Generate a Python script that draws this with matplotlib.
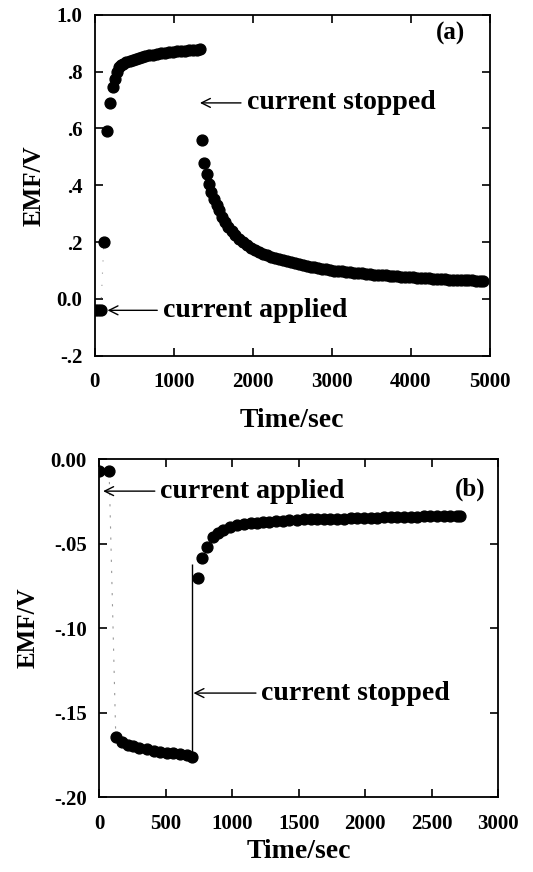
import matplotlib
matplotlib.use("Agg")
import matplotlib.pyplot as plt
from matplotlib.ticker import FixedLocator, FixedFormatter

plt.rcParams['font.family'] = ['Liberation Serif', 'DejaVu Serif']
plt.rcParams['font.weight'] = 'bold'

# panel (a): EMF after current applied, then stopped
time_a_on = [0, 40, 75, 114, 152, 190, 228, 250, 275, 300, 330, 360, 400, 440, 480,
             520, 560, 600, 640, 690, 740, 790, 840, 890, 940, 990, 1040, 1090,
             1140, 1190, 1240, 1290, 1330]
emf_a_on = [-0.04, -0.04, -0.04, 0.20, 0.59, 0.69, 0.745, 0.775, 0.80, 0.815, 0.822,
            0.828, 0.834, 0.838, 0.842, 0.845, 0.848, 0.851, 0.854, 0.857, 0.859,
            0.861, 0.864, 0.866, 0.868, 0.870, 0.871, 0.873, 0.874, 0.875, 0.876,
            0.877, 0.878]

time_a_off = [1354, 1385, 1415, 1445, 1475, 1505, 1540, 1575, 1610, 1650, 1690, 1735,
              1780, 1830, 1880, 1930, 1980, 2030, 2080, 2130, 2180, 2230, 2280, 2330,
              2380, 2430, 2480, 2530, 2580, 2630, 2680, 2730, 2780, 2830, 2880, 2930,
              2980, 3030, 3080, 3130, 3180, 3230, 3280, 3330, 3380, 3430, 3480, 3530,
              3580, 3630, 3680, 3730, 3780, 3830, 3880, 3930, 3980, 4030, 4080, 4130,
              4180, 4230, 4280, 4330, 4380, 4430, 4480, 4530, 4580, 4630, 4680, 4730,
              4780, 4830, 4880, 4910]
emf_a_off = [0.558, 0.48, 0.44, 0.405, 0.378, 0.352, 0.33, 0.313, 0.29, 0.27, 0.252,
             0.238, 0.225, 0.212, 0.200, 0.189, 0.180, 0.171, 0.164, 0.158, 0.153,
             0.148, 0.144, 0.140, 0.136, 0.132, 0.129, 0.126, 0.122, 0.119, 0.116,
             0.114, 0.111, 0.108, 0.106, 0.104, 0.102, 0.100, 0.098, 0.097, 0.095,
             0.094, 0.092, 0.091, 0.090, 0.088, 0.087, 0.086, 0.085, 0.084, 0.083,
             0.082, 0.081, 0.080, 0.079, 0.078, 0.077, 0.076, 0.075, 0.074, 0.073,
             0.072, 0.071, 0.071, 0.070, 0.069, 0.068, 0.068, 0.067, 0.066, 0.066,
             0.065, 0.065, 0.064, 0.064, 0.063]

# panel (b)
time_b_pre = [0, 75]
emf_b_pre = [-0.007, -0.007]
time_b_on = [125, 170, 215, 256, 300, 361, 410, 459, 510, 556, 610, 662, 699]
emf_b_on = [-0.1645, -0.1675, -0.169, -0.170, -0.171, -0.1716, -0.1725, -0.1734,
            -0.1738, -0.174, -0.1745, -0.175, -0.1765]
time_b_off = [744, 774, 812, 857, 895, 932, 985, 1038, 1090, 1140, 1190, 1233, 1280,
              1330, 1380, 1430, 1489, 1540, 1590, 1640, 1690, 1737, 1790, 1840, 1890,
              1940, 1990, 2040, 2090, 2140, 2190, 2240, 2290, 2340, 2390, 2440, 2490,
              2540, 2590, 2640, 2690, 2714]
emf_b_off = [-0.0704, -0.0586, -0.052, -0.046, -0.0435, -0.042, -0.0405, -0.039,
             -0.0385, -0.038, -0.0377, -0.0373, -0.037, -0.0367, -0.0364, -0.0361,
             -0.0358, -0.0357, -0.0356, -0.0355, -0.0355, -0.0354, -0.0353, -0.0352,
             -0.0351, -0.035, -0.0349, -0.0348, -0.0347, -0.0346, -0.0345, -0.0344,
             -0.0343, -0.0342, -0.0341, -0.034, -0.034, -0.0339, -0.0338, -0.0338,
             -0.0337, -0.0337]
stop_b = 699

xticks_a = [0, 1000, 2000, 3000, 4000, 5000]
yticks_a = [-0.2, 0.0, 0.2, 0.4, 0.6, 0.8, 1.0]
ylabels_a = ['-.2', '0.0', '.2', '.4', '.6', '.8', '1.0']
xticks_b = [0, 500, 1000, 1500, 2000, 2500, 3000]
yticks_b = [-0.20, -0.15, -0.10, -0.05, 0.00]
ylabels_b = ['-.20', '-.15', '-.10', '-.05', '0.00']

fig = plt.figure(figsize=(5.33, 8.72), dpi=100)
ax1 = fig.add_axes([0.178, 0.592, 0.741, 0.391])
ax2 = fig.add_axes([0.186, 0.086, 0.749, 0.3876])

mk = dict(marker='o', ms=7.8, color='black', ls='none')
tick_fs = 15
ann_fs = 20
arrow = dict(arrowstyle='->', lw=1.0, color='black', shrinkA=2, shrinkB=0,
             mutation_scale=16)


def style(ax, xt, yt, ylab, xpad):
    for s in ax.spines.values():
        s.set_linewidth(1.3)
    ax.tick_params(direction='in', length=6, width=1.2, top=True, right=True,
                   labelsize=tick_fs, pad=9)
    ax.tick_params(axis='x', pad=12)
    ax.xaxis.set_major_locator(FixedLocator(xt))
    ax.yaxis.set_major_locator(FixedLocator(yt))
    ax.yaxis.set_major_formatter(FixedFormatter(ylab))
    ax.set_xlabel('Time/sec', fontsize=20, fontweight='bold', labelpad=xpad)
    ax.set_ylabel('EMF/V', fontsize=18, fontweight='bold', labelpad=8)


# (a)
ax1.plot(time_a_on[2:4], emf_a_on[2:4], color='0.6', lw=0.8, ls=(0, (1, 10)))
ax1.plot(time_a_on, emf_a_on, **mk)
ax1.plot(time_a_off, emf_a_off, **mk)
ax1.set_xlim(0, 5000)
ax1.set_ylim(-0.2, 1.0)
style(ax1, xticks_a, yticks_a, ylabels_a, 11)
ax1.text(0.90, 0.945, '(a)', transform=ax1.transAxes, ha='center', va='center',
         fontsize=18, fontweight='bold')
ax1.annotate('current stopped', xy=(1330, 0.69), xytext=(1920, 0.69),
             ha='left', va='center', fontsize=ann_fs, fontweight='bold',
             arrowprops=arrow)
ax1.annotate('current applied', xy=(160, -0.04), xytext=(860, -0.04),
             ha='left', va='center', fontsize=ann_fs, fontweight='bold',
             arrowprops=arrow)

# (b)
ax2.plot([time_b_pre[-1], time_b_on[0]], [emf_b_pre[-1], emf_b_on[0]],
         color='0.6', lw=0.8, ls=(0, (2, 8)))
ax2.vlines(stop_b, emf_b_on[-1], -0.062, color='black', lw=1.0)
ax2.plot(time_b_pre, emf_b_pre, **mk)
ax2.plot(time_b_on, emf_b_on, **mk)
ax2.plot(time_b_off, emf_b_off, **mk)
ax2.set_xlim(0, 3000)
ax2.set_ylim(-0.20, 0.0)
style(ax2, xticks_b, yticks_b, ylabels_b, 4)
ax2.text(0.93, 0.91, '(b)', transform=ax2.transAxes, ha='center', va='center',
         fontsize=18, fontweight='bold')
ax2.annotate('current applied', xy=(30, -0.019), xytext=(460, -0.019),
             ha='left', va='center', fontsize=ann_fs, fontweight='bold',
             arrowprops=arrow)
ax2.annotate('current stopped', xy=(stop_b + 10, -0.1385), xytext=(1220, -0.1385),
             ha='left', va='center', fontsize=ann_fs, fontweight='bold',
             arrowprops=arrow)

fig.savefig('out.png', dpi=100)
